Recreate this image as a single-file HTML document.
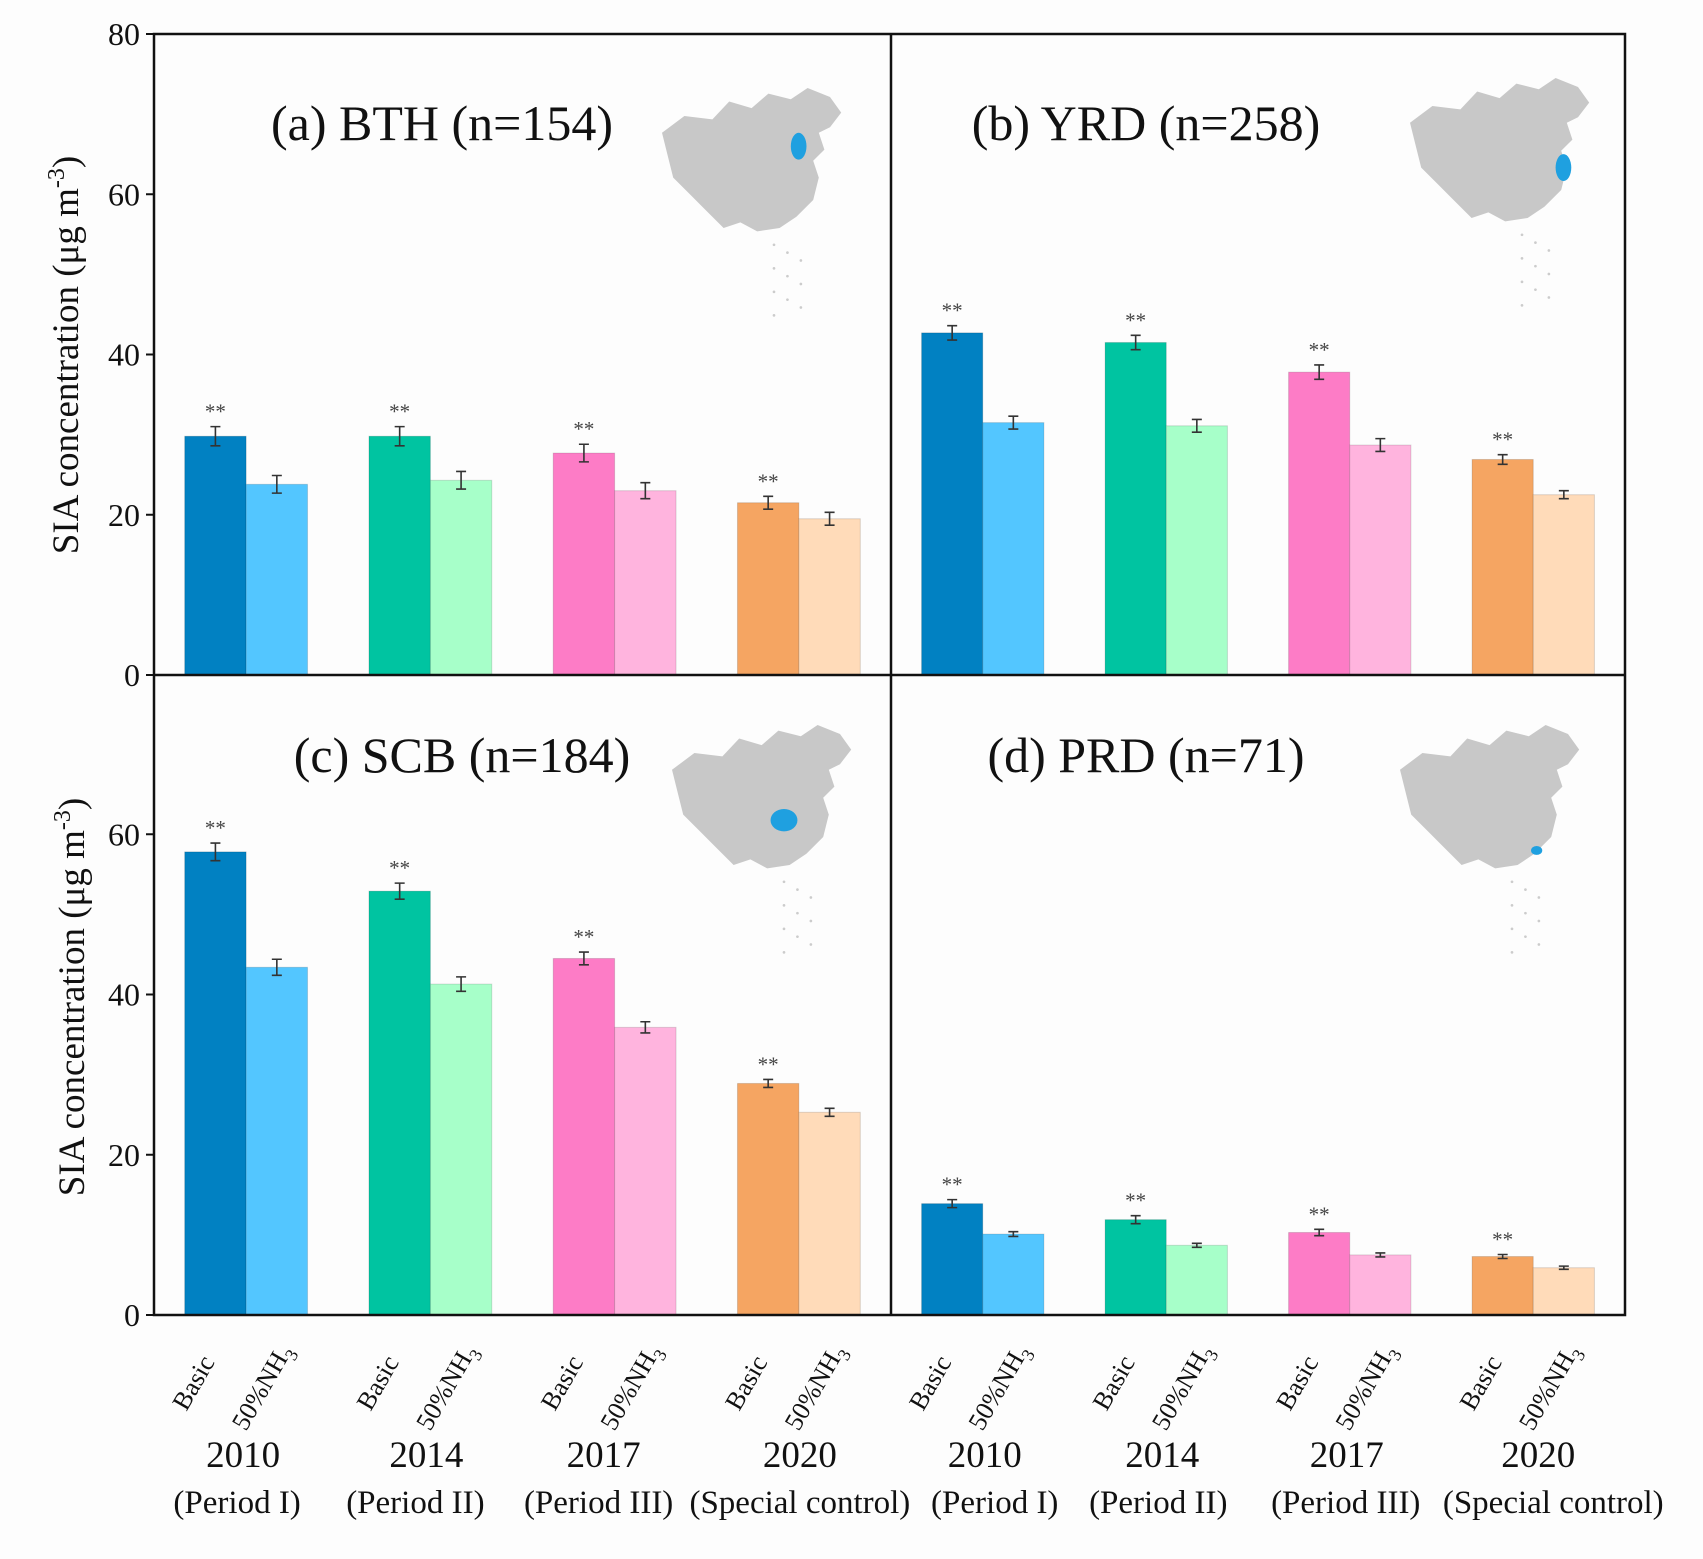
<!DOCTYPE html>
<html><head><meta charset="utf-8"><style>
html,body{margin:0;padding:0;background:#fff;}
svg{display:block;font-family:"Liberation Serif",serif;}
</style></head><body>
<svg id="chart" width="1703" height="1559" viewBox="0 0 1703 1559" xmlns="http://www.w3.org/2000/svg">
<rect width="1703" height="1559" fill="#fdfdfd"/>
</svg>
<script>
const years = ["2010","2014","2017","2020"];
const periods = ["(Period I)","(Period II)","(Period III)","(Special control)"];
const panelTitles = ["(a) BTH (n=154)","(b) YRD (n=258)","(c) SCB (n=184)","(d) PRD (n=71)"];
const basicVals = [[29.8,29.8,27.7,21.5],[42.7,41.5,37.8,26.9],[57.8,52.9,44.5,28.9],[13.9,11.9,10.3,7.3]];
const nh3Vals = [[23.8,24.3,23.0,19.5],[31.5,31.1,28.7,22.5],[43.4,41.3,35.9,25.3],[10.1,8.7,7.5,5.9]];
const basicErr = [[1.2,1.2,1.1,0.8],[0.9,0.9,0.9,0.6],[1.1,1.0,0.8,0.5],[0.5,0.5,0.4,0.25]];
const nh3Err = [[1.1,1.1,1.0,0.8],[0.8,0.8,0.8,0.5],[1.0,0.9,0.7,0.5],[0.3,0.25,0.25,0.2]];
const yTicksTop = [0,20,40,60,80];
const yTicksBot = [0,20,40,60];

const NS="http://www.w3.org/2000/svg";
const svg=document.getElementById('chart');
function mk(tag,attrs,parent){const e=document.createElementNS(NS,tag);for(const k in attrs)e.setAttribute(k,attrs[k]);(parent||svg).appendChild(e);return e;}
const basicCol=["#0181c2","#00c4a1","#fd7cc6","#f5a562"];
const lightCol=["#53c6ff","#a7ffc9","#ffb4de","#ffdbb9"];
const X0=154,XM=891,X1=1625,Y0=34,YM=675,Y1=1315;
const pxPer=(YM-Y0)/80;
const panels=[{x:X0,base:YM,w:XM-X0},{x:XM,base:YM,w:X1-XM},{x:X0,base:Y1,w:XM-X0},{x:XM,base:Y1,w:X1-XM}];
function band(p){return panels[p].w/4;}
function yv(p,v){return panels[p].base-v*pxPer;}
function xg(p,g){return panels[p].x+band(p)*g+band(p)/2;}
const periodShift=[[-9,-15,-16,1],[12,-8,-4,20]];
const yearShift=[[-3,-4,-11,1],[2,-4,-3,5]];

// maps
const chinaPts="0,40 20,25 45,28 60,12 80,18 95,5 115,10 130,0 150,8 160,22 150,35 140,40 145,55 135,65 140,80 135,100 120,115 105,125 85,128 70,120 55,125 40,110 25,95 10,80 5,60";
const mapPos=[[662,88,[122,52]],[1410,78,[137,80]],[672,725,[100,85]],[1400,725,[122,112]]];
mapPos.forEach((m,i)=>{
  const g=mk('g',{transform:`translate(${m[0]},${m[1]}) scale(1.12)`});
  
  
  mk('polygon',{points:chinaPts,fill:'#c8c8c8'},g);
  mk('ellipse',{cx:m[2][0],cy:m[2][1],rx:i==2?12:(i==3?5:7),ry:i==2?10:(i==3?4:12),fill:'#1fa0e0'},g);
  for(let k=0;k<10;k++) mk('circle',{cx:100+(k%3)*12,cy:140+k*7,r:1.2,fill:'#ccc'},g);
});

for(let p=0;p<4;p++){
  const bw=band(p)/3;
  for(let g=0;g<4;g++){
    const xc=xg(p,g);
    const vals=[basicVals[p][g],nh3Vals[p][g]], errs=[basicErr[p][g],nh3Err[p][g]];
    for(let s=0;s<2;s++){
      const x=xc-bw+s*bw, y=yv(p,vals[s]);
      const r=mk('rect',{x:x,y:y,width:bw,height:panels[p].base-y,fill:s?lightCol[g]:basicCol[g],stroke:'#00000022','stroke-width':1});
      
      
      const cx=x+bw/2, yt=yv(p,vals[s]+errs[s]), yb=yv(p,vals[s]-errs[s]);
      mk('path',{d:`M${cx},${yt}V${yb}M${cx-5},${yt}H${cx+5}M${cx-5},${yb}H${cx+5}`,stroke:'#333','stroke-width':1.6,fill:'none'});
      if(s==0){const t=mk('text',{x:cx,y:yt-8,'text-anchor':'middle','font-size':21,fill:'#444'});t.textContent='**';
        }
    }
  }
  const tp=[[442,140],[1146,140],[462,772],[1146,772]][p];
  const t=mk('text',{x:tp[0],y:tp[1],'text-anchor':'middle','font-size':50,fill:'#111'});t.textContent=panelTitles[p];
  
}
// frame
mk('rect',{x:X0,y:Y0,width:X1-X0,height:Y1-Y0,fill:'none',stroke:'#111','stroke-width':2.5});
mk('path',{d:`M${XM},${Y0}V${Y1}M${X0},${YM}H${X1}`,stroke:'#111','stroke-width':2.5});
// y ticks
function yTicks(ticks,base){ticks.forEach(v=>{const y=base-v*pxPer;mk('path',{d:`M${X0-8},${y}H${X0}`,stroke:'#111','stroke-width':2});
  const t=mk('text',{x:X0-14,y:y+11,'text-anchor':'end','font-size':32,fill:'#111'});t.textContent=v;
  });}
yTicks(yTicksTop,YM);yTicks(yTicksBot,Y1);
[[66,355],[72,997]].forEach(q=>{
  const t=mk('text',{x:0,y:0,transform:`translate(${q[0]+12},${q[1]}) rotate(-90)`,'text-anchor':'middle','font-size':37,fill:'#111'});
  
  t.innerHTML='SIA concentration (μg m<tspan dy="-14" font-size="24">-3</tspan><tspan dy="14">)</tspan>';
});
// x labels
for(let p of [2,3]){const bw=band(p)/3;const side=p-2;for(let g=0;g<4;g++){const xc=xg(p,g);
  const a=mk('text',{x:0,y:0,transform:`translate(${xc-bw/2-29},${1412}) rotate(-60)`,'font-size':26,fill:'#111'});a.textContent='Basic';
  
  const b=mk('text',{x:0,y:0,transform:`translate(${xc+bw/2-31},${1432}) rotate(-60)`,'font-size':26,fill:'#111'});
  b.innerHTML='50%NH<tspan dy="7" font-size="18">3</tspan>';
  
  const y=mk('text',{x:xc+yearShift[side][g],y:1467,'text-anchor':'middle','font-size':37,fill:'#111'});y.textContent=years[g];
  
  const pr=mk('text',{x:xc+periodShift[side][g],y:1513,'text-anchor':'middle','font-size':33,fill:'#111'});pr.textContent=periods[g];
  
}}
</script>
</body></html>
